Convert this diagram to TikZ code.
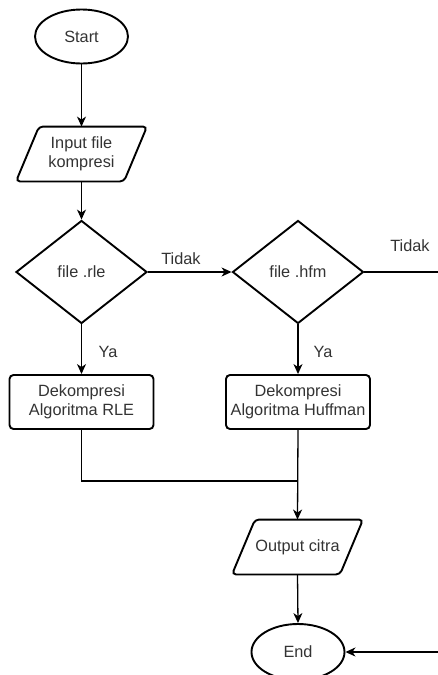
\documentclass[tikz,border=0pt]{standalone}
\usepackage{fontspec}
\setmainfont{Liberation Sans}
\usetikzlibrary{shapes.geometric,arrows.meta}
\definecolor{txt}{HTML}{333333}
\begin{document}
\begin{tikzpicture}[x=1pt,y=-1pt,
  base/.style={font=\fontsize{16.3}{18.5}\selectfont, text=txt, align=center, line width=1.9pt},
  term/.style={base, draw, ellipse, minimum width=93pt, minimum height=54pt, inner sep=0pt},
  proc/.style={base, draw, rectangle, rounded corners=4pt, minimum width=144pt, minimum height=54pt, inner sep=0pt},
  dec/.style={base, draw, diamond, minimum width=131pt, minimum height=103pt, inner sep=0pt},
  io/.style={base, rectangle, minimum width=108pt, minimum height=53pt, inner sep=0pt},
  para/.style={line width=1.9pt, rounded corners=4pt},
  conn/.style={line width=1.3pt, -{Stealth[length=10pt,width=9pt,inset=3pt]}},
  plain/.style={line width=1.3pt},
  lbl/.style={font=\fontsize{16.3}{18.5}\selectfont, text=txt, inner sep=0pt}
]
\useasboundingbox (0,0) rectangle (438,675);

\node[term] (start) at (81.5,36.5) {Start};
\node[io] (inp) at (81.5,154) {Input file\\kompresi};
\draw[para] ([xshift=-42.5pt]inp.north) -- ([xshift=65.5pt]inp.north) -- ([xshift=42.5pt]inp.south) -- ([xshift=-65.5pt]inp.south) -- cycle;
\node[dec] (d1) at (81.5,272) {file .rle};
\node[dec] (d2) at (298,272) {file .hfm};
\node[proc] (b1) at (81.5,402) {Dekompresi\\Algoritma RLE};
\node[proc] (b2) at (298,402) {Dekompresi\\Algoritma Huffman};
\node[io] (out) at (297.5,547) {Output citra};
\draw[para] ([xshift=-42.5pt]out.north) -- ([xshift=65.5pt]out.north) -- ([xshift=42.5pt]out.south) -- ([xshift=-65.5pt]out.south) -- cycle;
\node[term, minimum height=56pt] (endn) at (298,652) {End};

\coordinate (jn) at (298,481);
\coordinate (exitR) at (438,272);
\coordinate (backR) at (438,652);

\draw[conn] (start.south) -- (inp.north);
\draw[conn] (inp.south) -- (d1.north);
\draw[conn] (d1.east) -- (d2.west);
\draw[conn] (d1.south) -- (b1.north);
\draw[conn] (d2.south) -- (b2.north);
\draw[plain] (d2.east) -- (exitR);
\draw[plain] (b1.south) |- (jn);
\draw[conn] (b2.south) -- (out.north);
\draw[conn] (out.south) -- (endn.north);
\draw[conn] (backR) -- (endn.east);

\node[lbl] (t1) at (181,259) {Tidak};
\node[lbl] (t2) at (410,246) {Tidak};
\node[lbl] (y1) at (108,352) {Ya};
\node[lbl] (y2) at (323,352) {Ya};
\end{tikzpicture}
\end{document}
